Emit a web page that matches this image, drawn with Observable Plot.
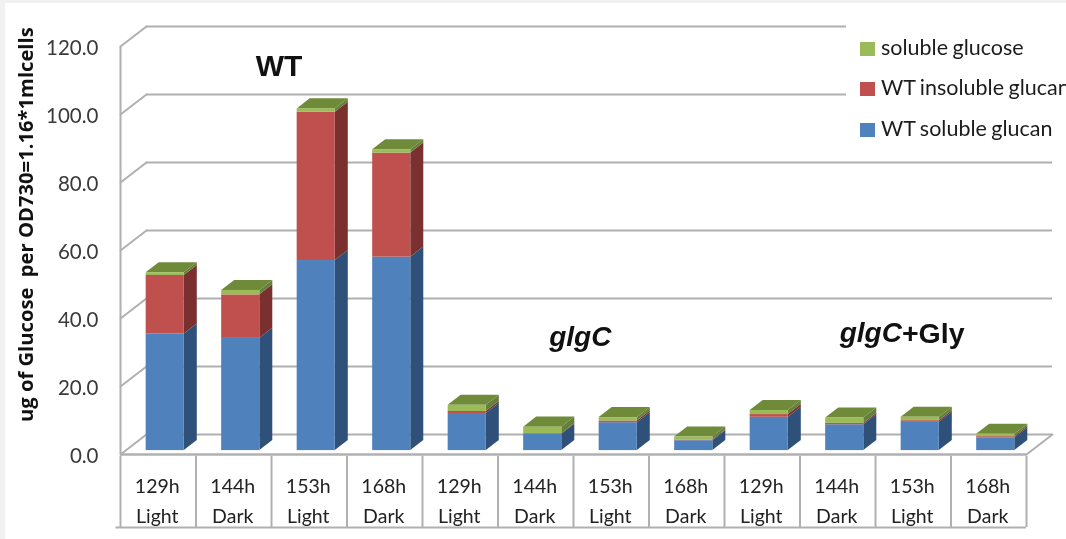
<!DOCTYPE html>
<html>
<head>
<meta charset="utf-8">
<script src="https://cdn.jsdelivr.net/npm/d3@7"></script>
<script src="https://cdn.jsdelivr.net/npm/@observablehq/plot@0.6"></script>
<style>
  html, body { margin: 0; padding: 0; background: #f1f1f1; width: 1066px; height: 539px; overflow: hidden; }
  #page { position: absolute; left: 5px; top: 3px; width: 1061px; height: 536px; background: #fff; }
  #chart { position: absolute; left: 0; top: 0; width: 1066px; height: 539px; overflow: hidden; filter: blur(0.7px); }
  #chart svg { background: transparent; display: block; }
  #legend { position: absolute; left: 846px; top: 20px; width: 220px; height: 130px; background: #fff;
            font: 21.5px Lato, sans-serif; color: #1c1c1c; overflow: hidden; white-space: nowrap; word-spacing: -1px; }
  #legend div { position: absolute; left: 14px; height: 22px; line-height: 22px; }
  #legend i { display: inline-block; width: 15px; height: 14px; margin-right: 6px; vertical-align: -1px; }
</style>
</head>
<body>
<div id="page"></div>
<div id="chart"></div>
<script>
// ---- data ----
const hours  = ["129h","144h","153h","168h","129h","144h","153h","168h","129h","144h","153h","168h"];
const phases = ["Light","Dark","Light","Dark","Light","Dark","Light","Dark","Light","Dark","Light","Dark"];
const solubleGlucan   = [34.3,33.0,55.9,56.9,10.9,4.8,8.2,2.9,9.8,7.6,8.3,3.7];
const insolubleGlucan = [17.2,12.8,43.6,30.6,0.6,0.2,0.5,0.2,0.8,0.4,0.5,0.4];
const solubleGlucose  = [0.8,1.3,1.0,1.0,1.8,1.9,1.0,0.9,1.2,1.6,1.0,0.7];
const yTicks = [0,20,40,60,80,100,120];
const seriesNames = ["WT soluble glucan","WT insoluble glucan","soluble glucose"];
const legendOrder = ["soluble glucose","WT insoluble glucan","WT soluble glucan"];
const frontColors = ["#4f81bd","#c0504d","#9bbb59"];
const sideColors  = ["#2f5078","#7a302e","#64803a"];
const topColor = "#6f8b3a";
const gridColor = "#b0b0b0";

// ---- pseudo-3D box, in data units ----
const n = hours.length;
const wallDx = 0.344, wallDy = 5.9;         // depth of the box
const barInset = 0.34, barW = 0.505;        // bar position in its category
const baseDy = 1.15;                        // bar's front face sits slightly inside the floor
const barDx = 0.172, barDy = 2.95;          // depth of a bar
const tableBottom = -21.5;

// stacked segments
const values = [solubleGlucan, insolubleGlucan, solubleGlucose];
const segs = [];
hours.forEach((h, i) => {
  let acc = baseDy;
  values.forEach((v, s) => {
    segs.push({i, s, y1: acc, y2: acc + v[i], l: i + barInset, r: i + barInset + barW});
    acc += v[i];
  });
});
const sidePts = segs.flatMap(d => [0, 1].map(t => ({
  key: d.i + "-" + d.s, s: d.s,
  x: d.r + t * barDx, y1: d.y1 + t * barDy, y2: d.y2 + t * barDy
})));
const topPts = segs.filter(d => d.s === 2).flatMap(d => [0, 1].map(t => ({
  key: d.i,
  y: d.y2 + t * barDy, x1: d.l + t * barDx, x2: d.r + t * barDx
})));

// grid: back wall lines and the left-wall diagonals
const wallLines = yTicks.map(v => ({v}));
const wallDiag = yTicks.flatMap(v => [{v, x: 0, y: v}, {v, x: wallDx, y: v + wallDy}]);
const floorRight = [{x: n, y: 0}, {x: n + wallDx, y: wallDy}];
const tableTicks = d3.range(n + 1);

const plot = Plot.plot({
  width: 1066, height: 539,
  margin: 0,
  x: {domain: [-120 / 75.5, (1066 - 120) / 75.5], range: [0, 1066], axis: null},
  y: {domain: [-85 / 3.4, 454 / 3.4], range: [539, 0], axis: null},
  color: {type: "identity"},
  style: {background: "transparent"},
  marks: [
    // walls
    Plot.ruleY(wallLines, {y: d => d.v + wallDy, x1: wallDx, x2: n + wallDx, stroke: gridColor, strokeWidth: 2}),
    Plot.line(wallDiag, {x: "x", y: "y", z: "v", stroke: gridColor, strokeWidth: 2}),
    Plot.ruleX([0], {y1: 0, y2: 120, stroke: gridColor, strokeWidth: 2}),
    Plot.ruleY([0], {x1: 0, x2: n, stroke: gridColor, strokeWidth: 2.5}),
    Plot.line(floorRight, {x: "x", y: "y", stroke: gridColor, strokeWidth: 2}),
    // category table
    Plot.ruleX(tableTicks, {y1: -0.5, y2: tableBottom, stroke: gridColor, strokeWidth: 2}),
    Plot.ruleY([tableBottom], {x1: -0.06, x2: n, stroke: gridColor, strokeWidth: 2}),
    // bars
    Plot.areaY(sidePts, {x: "x", y1: "y1", y2: "y2", z: "key", fill: d => sideColors[d.s]}),
    Plot.areaX(topPts, {y: "y", x1: "x1", x2: "x2", z: "key", fill: topColor}),
    Plot.rect(segs, {x1: "l", x2: "r", y1: "y1", y2: "y2", fill: d => frontColors[d.s]}),
    // y tick labels
    Plot.text(yTicks, {x: 0, y: d => d, text: d => d.toFixed(1), dx: -22, dy: 2, textAnchor: "end",
      fontFamily: "Lato", fontSize: 20.5, fill: "#3a3a3a"}),
    // category labels
    Plot.text(hours, {x: (d, i) => i + 0.5, y: -9.6, dx: -1, text: d => d, fontFamily: "Lato", fontSize: 19.5, fill: "#222"}),
    Plot.text(phases, {x: (d, i) => i + 0.5, y: -18.4, dx: -1, text: d => d, fontFamily: "Lato", fontSize: 19.5, fill: "#222"}),
    // y title
    Plot.text(["ug of Glucose  per OD730=1.16*1mlcells"], {x: -1.245, y: 67.6, text: d => d, rotate: -90,
      fontFamily: "Open Sans", fontWeight: 700, fontSize: 20.2, fill: "#111"}),
    // group names
    Plot.text(["WT"], {x: 2.1, y: 114.2, text: d => d, fontFamily: "Liberation Sans", fontWeight: 700, fontSize: 30, fill: "#111"}),
    Plot.text(["glgC"], {x: 6.09, y: 34.5, text: d => d, fontFamily: "Liberation Sans", fontWeight: 700, fontStyle: "italic", fontSize: 28, fill: "#111"}),
    Plot.text(["glgC"], {x: 10.35, y: 35.6, text: d => d, textAnchor: "end", fontFamily: "Liberation Sans", fontWeight: 700, fontStyle: "italic", fontSize: 28, fill: "#111"}),
    Plot.text(["+Gly"], {x: 10.35, y: 35.6, text: d => d, textAnchor: "start", fontFamily: "Liberation Sans", fontWeight: 700, fontSize: 28.5, fill: "#111"})
  ]
});
const host = document.getElementById("chart");
host.appendChild(plot);

// legend
const legend = document.createElement("div");
legend.id = "legend";
legendOrder.forEach((name, k) => {
  const row = document.createElement("div");
  row.style.top = (15.5 + k * 40.5) + "px";
  const sw = document.createElement("i");
  sw.style.background = frontColors[seriesNames.indexOf(name)];
  row.appendChild(sw);
  row.appendChild(document.createTextNode(name));
  legend.appendChild(row);
});
host.appendChild(legend);
</script>
</body>
</html>
